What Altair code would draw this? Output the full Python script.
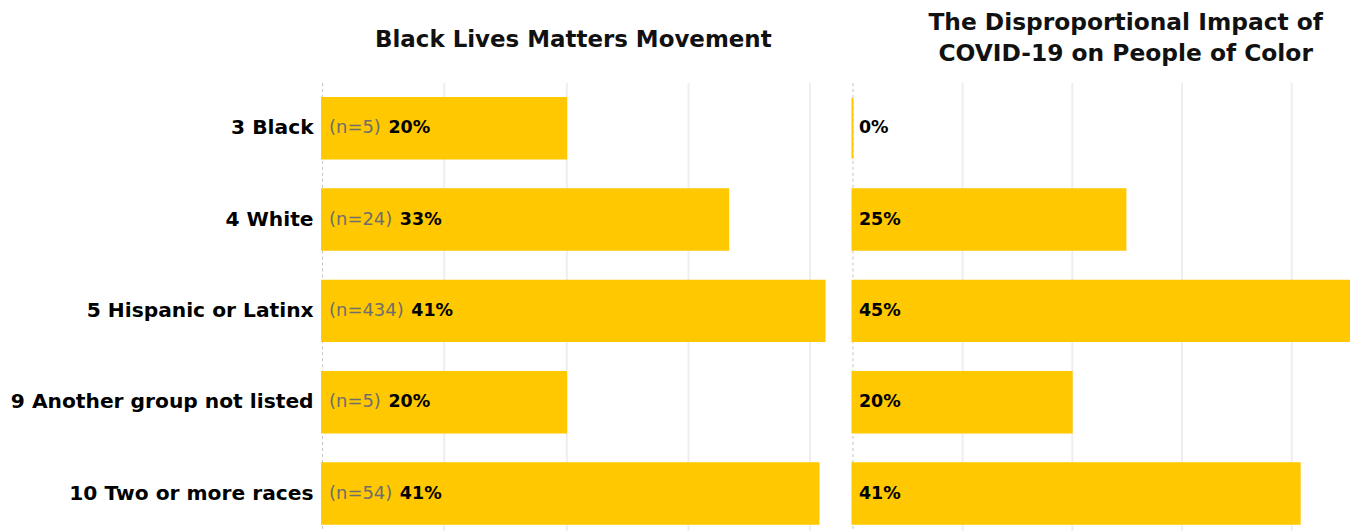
import altair as alt
import pandas as pd

groups = ["3 Black", "4 White", "5 Hispanic or Latinx",
          "9 Another group not listed", "10 Two or more races"]
n_blm = [5, 24, 434, 5, 54]
blm_pct = [20.0, 33.3, 41.2, 20.0, 40.7]
covid_pct = [0.0, 24.9, 45.3, 20.0, 40.8]

title_blm = "Black Lives Matters Movement"
title_covid = ["The Disproportional Impact of", "COVID-19 on People of Color"]
grid_values = [10, 20, 30, 40]

df = pd.DataFrame({"group": groups, "n": n_blm, "blm": blm_pct, "covid": covid_pct})

BAR = "#FFC800"
FONT = "DejaVu Sans"
W_LEFT = 504
W_RIGHT = 498
H = 458


def y_enc(show_labels):
    return alt.Y(
        "group:N", sort=groups, title=None,
        scale=alt.Scale(paddingInner=0.338, paddingOuter=0.169),
        axis=alt.Axis(labels=show_labels, labelFont=FONT, labelFontWeight="bold",
                      labelFontSize=20.3, labelColor="#000000", labelPadding=9,
                      labelLimit=500, ticks=False, tickSize=0, domain=True,
                      domainColor="#c4c4c4", domainDash=[3, 3], domainWidth=1,
                      grid=False),
    )


def x_enc(field):
    return alt.X(
        f"{field}:Q", title=None,
        scale=alt.Scale(zero=True, nice=False),
        axis=alt.Axis(values=grid_values, labels=False, ticks=False, domain=False,
                      grid=True, gridColor="#eeeeee", gridWidth=2),
    )


def title(text, offset, dx=0, size=23):
    return alt.TitleParams(text=text, font=FONT, fontSize=size, fontWeight="bold",
                           color="#111111", anchor="middle", offset=offset,
                           lineHeight=30.7, dx=dx)


base = alt.Chart(df).transform_calculate(
    nlab="'(n=' + datum.n + ')'",
    blmlab="format(round(datum.blm), 'd') + '%'",
    covidlab="format(round(datum.covid), 'd') + '%'",
    off="7 + 18*(2.252 + 0.636*length(toString(datum.n))) + 7.6",
)

left_bars = base.mark_bar(color=BAR, stroke=BAR, strokeWidth=2).encode(
    x=x_enc("blm"), y=y_enc(True))
left_n = base.mark_text(align="left", baseline="middle", dx=7, font=FONT,
                        fontSize=18, color="#6e6e6e").encode(
    x=alt.datum(0), y=alt.Y("group:N", sort=groups), text="nlab:N")
left_pct = base.mark_text(align="left", baseline="middle", dx=alt.ExprRef("datum.off"),
                          font=FONT, fontSize=17.5, fontWeight="bold",
                          color="#000000").encode(
    x=alt.datum(0), y=alt.Y("group:N", sort=groups), text="blmlab:N")

left = alt.layer(left_bars, left_n, left_pct).properties(
    width=W_LEFT, height=H, title=title(title_blm, 30.7))

right_bars = base.mark_bar(color=BAR, stroke=BAR, strokeWidth=2).encode(
    x=x_enc("covid"), y=y_enc(False))
right_pct = base.mark_text(align="left", baseline="middle", dx=6.5, font=FONT,
                           fontSize=17.5, fontWeight="bold",
                           color="#000000").encode(
    x=alt.datum(0), y=alt.Y("group:N", sort=groups), text="covidlab:N")

right = alt.layer(right_bars, right_pct).properties(
    width=W_RIGHT, height=H, title=title(title_covid, 16.7, dx=25, size=23.4))

chart = alt.hconcat(left, right, spacing=26).configure_view(stroke=None).properties(
    padding={"left": 2, "top": 2, "right": 0, "bottom": 0})

chart.save("out.html", embed_options={"renderer": "svg", "actions": False})
